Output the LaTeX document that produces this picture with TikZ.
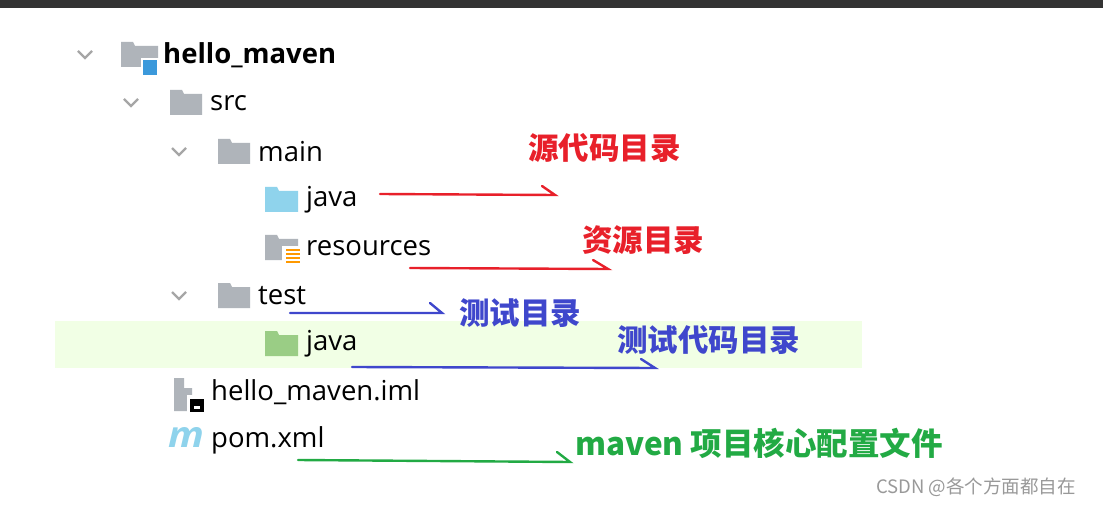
\documentclass[tikz,border=0pt]{standalone}
\usepackage{fontspec}
\setmainfont{Open Sans}
\newfontfamily\cjk{Noto Sans CJK SC}
\newcommand\cjkb{\cjk\bfseries}
\definecolor{fgray}{HTML}{AFB4BA}
\definecolor{fblue}{HTML}{8FD3EC}
\definecolor{fgreen}{HTML}{9ACD85}
\definecolor{mred}{HTML}{E8202A}
\definecolor{mblue}{HTML}{3F47CC}
\definecolor{mgreen}{HTML}{22AA44}
\begin{document}
\begin{tikzpicture}[x=1pt,y=-1pt,
  item/.style={anchor=west,inner sep=0pt,font=\fontsize{27.5}{28}\selectfont},
  lab/.style={anchor=west,inner sep=0pt,font=\cjkb\fontsize{30.5}{31}\selectfont},
  chev/.style={draw=gray!70,line width=2.2pt},
  pen/.style={line width=2.4pt,line cap=round}]
\useasboundingbox (0,0) rectangle (1103,505);
\fill[white] (0,0) rectangle (1103,505);
\fill[black!80] (0,0) rectangle (1103,8);
\fill[green!40!lime!10] (55,321) rectangle (862,368);
% chevrons
\foreach \x/\y/\n in {85/55/c1,131/103/c2,179/152/c3,179/296/c4}{
  \coordinate (\n) at (\x,\y);
  \draw[chev] ([shift={(-7,-4)}]\n) -- ([shift={(0,3)}]\n) -- ([shift={(7,-4)}]\n);}
% folder icons
\newcommand\folder[4]{\fill[#4] (#1,#2) -- (#1+12,#2) -- (#1+14,#2+4) -- (#1+#3,#2+4) -- (#1+#3,#2+25) -- (#1,#2+25) -- cycle;}
\folder{121}{42}{37}{fgray}
\fill[white] (141,58) rectangle (159,77);
\fill[cyan!70!blue!80] (143,60) rectangle (157,75);
\folder{170}{90}{32}{fgray}
\folder{218}{139}{32}{fgray}
\folder{265}{187}{33}{fblue}
\folder{265}{235}{33}{fgray}
\fill[white] (282,246) rectangle (300,266);
\foreach \k in {0,1,2,3} \fill[orange!80!yellow] (286,249+4*\k) rectangle (300,251+4*\k);
\folder{218}{283}{32}{fgray}
\folder{265}{331}{33}{fgreen}
% iml icon
\fill[fgray] (174,378) -- (184,378) -- (184,388) -- (192,388) -- (192,411) -- (174,411) -- cycle;
\fill[white] (187,395) rectangle (207,414);
\fill[black] (190,399) rectangle (204,412);
\fill[white] (194,406) rectangle (200,409);
% pom icon
\node[inner sep=0pt,font=\itshape\bfseries\fontsize{36}{36}\selectfont,text=fblue,xscale=1.1] (pi) at (186,437) {m};
% tree texts
\node[item,font=\bfseries\fontsize{27.5}{28}\selectfont] (hm) at (163,55) {hello\_maven};
\node[item] (src) at (210,103) {src};
\node[item] (main) at (258,152) {main};
\node[item] (j1) at (306,200) {java};
\node[item] (res) at (306,248) {resources};
\node[item] (test) at (258,296) {test};
\node[item] (j2) at (306,344) {java};
\node[item] (iml) at (211,392) {hello\_maven.iml};
\node[item] (pom) at (211,440) {pom.xml};
% labels
\node[lab,text=mred] (l1) at (528,148) {源代码目录};
\node[lab,text=mred] (l2) at (582,240) {资源目录};
\node[lab,text=mblue] (l3) at (459,313) {测试目录};
\node[lab,text=mblue] (l4) at (617,340) {测试代码目录};
\node[lab,text=mgreen,font=\cjkb\fontsize{31.5}{32}\selectfont] (l5) at (575,443) {maven 项目核心配置文件};
\node[anchor=west,inner sep=0pt,text=gray!80,font=\cjk\fontsize{18.5}{19}\selectfont] (wm) at (876,487) {CSDN @各个方面都自在};
% marker arrows
\coordinate (a1s) at (380,194); \coordinate (a1e) at (555,195);
\draw[pen,mred] (a1s) -- (a1e) -- ++(-13,-9);
\coordinate (a2s) at (410,268); \coordinate (a2e) at (608,269);
\draw[pen,mred] (a2s) -- (a2e) -- ++(-15,-9);
\coordinate (a3s) at (290,313); \coordinate (a3e) at (442,313);
\draw[pen,mblue] (a3s) -- (a3e) -- ++(-12,-10);
\coordinate (a4s) at (352,367); \coordinate (a4e) at (655,368);
\draw[pen,mblue] (a4s) -- (a4e) -- ++(-14,-9);
\coordinate (a5s) at (298,460); \coordinate (a5e) at (570,462);
\draw[pen,mgreen] (a5s) -- (a5e) -- ++(-13,-10);
\end{tikzpicture}
\end{document}
